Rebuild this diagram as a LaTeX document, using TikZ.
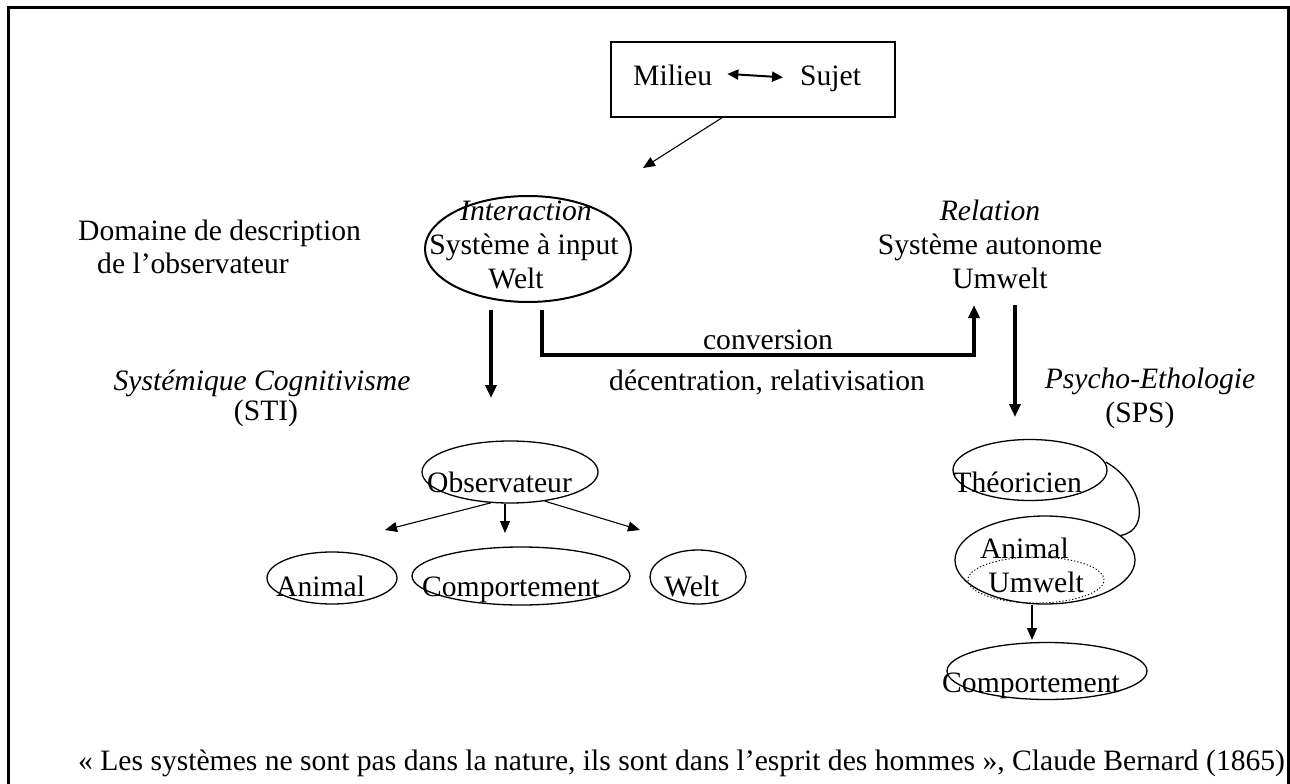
\documentclass[tikz,border=0pt]{standalone}
\usepackage{fontspec}
\setmainfont{Liberation Serif}
\usetikzlibrary{shapes.geometric,arrows.meta}
\newcommand\figfont{\fontsize{29.6}{34}\selectfont}
\tikzset{
  lbl/.style={font=\figfont, inner sep=0pt, anchor=base},
  lblw/.style={lbl, anchor=base west},
  lble/.style={lbl, anchor=base east},
  ell/.style={draw, ellipse, inner sep=0pt, line width=1.3pt},
  thinarrow/.style={-{Triangle[length=12pt,width=10pt]}, line width=1.1pt},
  thickarrow/.style={-{Triangle[length=13pt,width=11pt]}, line width=4pt},
}
\begin{document}
\begin{tikzpicture}[x=1pt,y=-1pt]
\useasboundingbox (0,0) rectangle (1290,784);
% outer frame
\draw[line width=3pt] (8,795) -- (8,8) -- (1288,8) -- (1288,795);

% top box
\node[draw, line width=1.5pt, minimum width=284pt, minimum height=75pt, inner sep=0pt] (box) at (753,79.5) {};
\node[lblw] (milieu) at (633,85) {Milieu};
\node[lblw] (sujet) at (800,85) {Sujet};
\draw[{Triangle[length=11pt,width=10pt]}-{Triangle[length=11pt,width=10pt]}, line width=2pt]
  ([xshift=15pt,yshift=1pt]milieu.east) -- ([xshift=-17pt,yshift=1pt]sujet.west);

% interaction ellipse
\node[ell, line width=2pt, minimum width=206pt, minimum height=106pt] (inter) at (528,249) {};
\node[lbl] (tinter) at (526,220) {\textit{Interaction}};
\node[lbl] (tsysin) at (524,254) {Système à input};
\node[lbl] (twelt) at (516,288) {Welt};
\coordinate (tipA) at (643,168);
\draw[thinarrow] ([xshift=-31pt]box.south) -- (tipA);

% left description
\node[lblw] (dom1) at (78,240) {Domaine de description};
\node[lblw] (dom2) at (97,273) {de l’observateur};

% relation
\node[lbl] (trel) at (990,220) {\textit{Relation}};
\node[lbl] (tsysaut) at (990,254) {Système autonome};
\node[lbl] (tumw) at (1000,288) {Umwelt};

% thick arrows
\coordinate (la0) at (491,310);
\coordinate (la1) at (491,398);
\draw[thickarrow] (la0) -- (la1);
\coordinate (cv0) at (542,310);
\coordinate (cv1) at (974,355);
\coordinate (cv2) at (974,305);
\draw[thickarrow] (cv0) |- (cv1) -- (cv2);
\coordinate (ra0) at (1015,305);
\coordinate (ra1) at (1015,417);
\draw[thickarrow] (ra0) -- (ra1);

\node[lbl] (tconv) at (768,349) {conversion};
\node[lbl] (tdec) at (767,390) {décentration, relativisation};

\node[lbl] (tsyst) at (262,390) {\textit{Systémique Cognitivisme}};
\node[lbl] (tsti) at (266,420) {(STI)};
\node[lbl] (tpsy) at (1150,388) {\textit{Psycho-Ethologie}};
\node[lbl] (tsps) at (1140,422) {(SPS)};

% left tree
\node[ell, minimum width=176pt, minimum height=62pt] (obs) at (510,472) {};
\node[lblw] (tobs) at (427,492) {Observateur};
\node[ell, minimum width=130pt, minimum height=52pt] (anim) at (332,578) {};
\node[lblw] (tanim) at (276,596) {Animal};
\node[ell, minimum width=218pt, minimum height=58pt] (comp) at (521,576) {};
\node[lblw] (tcomp) at (422,596) {Comportement};
\node[ell, minimum width=96pt, minimum height=54pt] (weltb) at (698,577) {};
\node[lblw] (tweltb) at (664,596) {Welt};
\coordinate (oa1) at (385,530);
\coordinate (oc1) at (505,533);
\coordinate (ow1) at (640,530);
\draw[thinarrow] (obs.238) -- (oa1);
\draw[thinarrow] (obs.south) ++(-5pt,0) -- (oc1);
\draw[thinarrow] (obs.320) -- (ow1);

% right tree
\node[ell, minimum width=154pt, minimum height=61pt] (theo) at (1030,470) {};
\node[lble] (ttheo) at (1082,492) {Théoricien};
\node[ell, minimum width=180pt, minimum height=88pt] (anim2) at (1045,560) {};
\node[ell, dotted, line width=0.9pt, minimum width=136pt, minimum height=46pt] (umw) at (1036,580) {};
\node[lble] (tanim2) at (1069,558) {Animal};
\node[lble] (tumw2) at (1084,592) {Umwelt};
\draw[line width=1.3pt] (theo.east) ++(-2pt,8pt) .. controls (1142,482) and (1152,530) .. (anim2.18);
\coordinate (ac1) at (1032,640);
\node[ell, minimum width=200pt, minimum height=57pt] (comp2) at (1047,671) {};
\node[lble] (tcomp2) at (1120,692) {Comportement};
\draw[thinarrow] (anim2.south -| ac1) -- (ac1);

% quote
\node[lblw] (quote) at (78,770) {«~Les systèmes ne sont pas dans la nature, ils sont dans l’esprit des hommes~», Claude Bernard (1865)};
\end{tikzpicture}
\end{document}
